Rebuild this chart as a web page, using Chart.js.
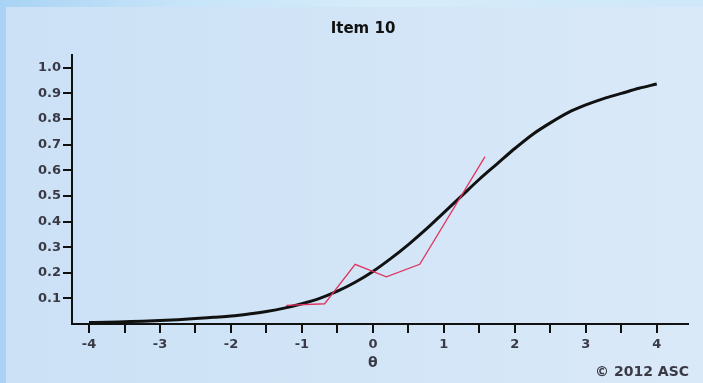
<!DOCTYPE html>
<html>
<head>
<meta charset="utf-8">
<script src="https://cdn.jsdelivr.net/npm/chart.js@4"></script>
<style>
  html,body{margin:0;padding:0;background:#c4e0f7;}
  #wrap{position:relative;width:703px;height:383px;overflow:hidden;
    background:linear-gradient(to right,#a9d3f4 0,#c6e4f9 25%,#d6ecfa 55%,#cfe7f9 100%);}
  #panel{position:absolute;left:6px;top:7px;right:0;bottom:0;
    background:linear-gradient(to right,#cce1f6 0,#d2e5f7 50%,#dae9f8 100%);}
  #box{position:absolute;left:0;top:0;width:703px;height:383px;}
</style>
</head>
<body>
<div id="wrap"><div id="panel"></div><div id="box"><canvas id="c"></canvas></div></div>
<script>
'use strict';
// item characteristic curve (model) — theta / probability
const curveTheta=[-4,-3.75,-3.5,-3.25,-3,-2.75,-2.5,-2.25,-2,-1.75,-1.5,-1.25,-1,-0.75,-0.5,-0.25,0,
  0.25,0.5,0.75,1,1.25,1.5,1.75,2,2.25,2.5,2.75,3,3.25,3.5,3.75,4];
const curveP=[0.006,0.007,0.009,0.011,0.014,0.017,0.021,0.026,0.031,0.039,0.049,0.062,0.079,0.10,0.128,0.163,0.205,
  0.255,0.31,0.37,0.435,0.50,0.565,0.625,0.685,0.74,0.785,0.825,0.855,0.88,0.90,0.92,0.937];
// observed proportions
const obsTheta=[-1.22,-0.68,-0.25,0.19,0.66,1.58];
const obsP=[0.073,0.079,0.233,0.184,0.233,0.653];
// ticks
const xTickValues=[-4,-3.5,-3,-2.5,-2,-1.5,-1,-0.5,0,0.5,1,1.5,2,2.5,3,3.5,4];
const xTickLabels=['-4','','-3','','-2','','-1','','0','','1','','2','','3','','4'];
const yTickValues=[0.1,0.2,0.3,0.4,0.5,0.6,0.7,0.8,0.9,1.0];
const yTickLabels=['0.1','0.2','0.3','0.4','0.5','0.6','0.7','0.8','0.9','1.0'];

const FONT='"DejaVu Sans", Verdana, sans-serif';
const INK='#111111', LBL='#3a3a46';

const pts=(xs,ys)=>xs.map((x,i)=>({x,y:ys[i]}));

const extraText={
  id:'extraText',
  afterDraw(chart){
    const {ctx,scales:{x}}=chart;
    ctx.save();
    ctx.fillStyle=LBL;
    ctx.textBaseline='middle';
    ctx.font='bold 14px '+FONT;
    ctx.textAlign='center';
    ctx.fillText('θ',x.getPixelForValue(0),363);
    ctx.textAlign='right';
    ctx.font='bold 14px '+FONT;
    ctx.fillText('© 2012 ASC',689,372);
    ctx.restore();
  }
};

new Chart(document.getElementById('c'),{
  type:'line',
  data:{datasets:[
    {label:'Observed',data:pts(obsTheta,obsP),borderColor:'#e0335f',borderWidth:1.3,pointRadius:0,tension:0},
    {label:'Model',data:pts(curveTheta,curveP),borderColor:INK,borderWidth:3,pointRadius:0,cubicInterpolationMode:'monotone'}
  ]},
  options:{
    responsive:true,maintainAspectRatio:false,animation:false,
    layout:{padding:{left:38,right:15,top:0,bottom:0}},
    plugins:{
      legend:{display:false},tooltip:{enabled:false},
      title:{display:true,text:'Item 10',color:INK,font:{family:FONT,size:15,weight:'bold'},padding:{top:20,bottom:17}}
    },
    scales:{
      x:{type:'linear',min:-4.24,max:4.44,
        afterBuildTicks:s=>{s.ticks=xTickValues.map(v=>({value:v}));},
        afterFit:s=>{s.height=59;},
        grid:{drawOnChartArea:false,drawTicks:true,tickLength:9,color:INK,lineWidth:2},
        border:{display:true,color:INK,width:2},
        ticks:{autoSkip:false,maxRotation:0,padding:4,color:LBL,font:{family:FONT,size:13,weight:'bold'},
          callback:(v,i)=>xTickLabels[i]}
      },
      y:{min:0,max:1.05,
        afterBuildTicks:s=>{s.ticks=yTickValues.map(v=>({value:v}));},
        afterFit:s=>{s.width=34;},
        grid:{drawOnChartArea:false,drawTicks:true,tickLength:9,color:INK,lineWidth:2},
        border:{display:true,color:INK,width:2},
        ticks:{autoSkip:false,padding:2,color:LBL,font:{family:FONT,size:13,weight:'bold'},
          callback:(v,i)=>yTickLabels[i]}
      }
    }
  },
  plugins:[extraText]
});
</script>
</body>
</html>
